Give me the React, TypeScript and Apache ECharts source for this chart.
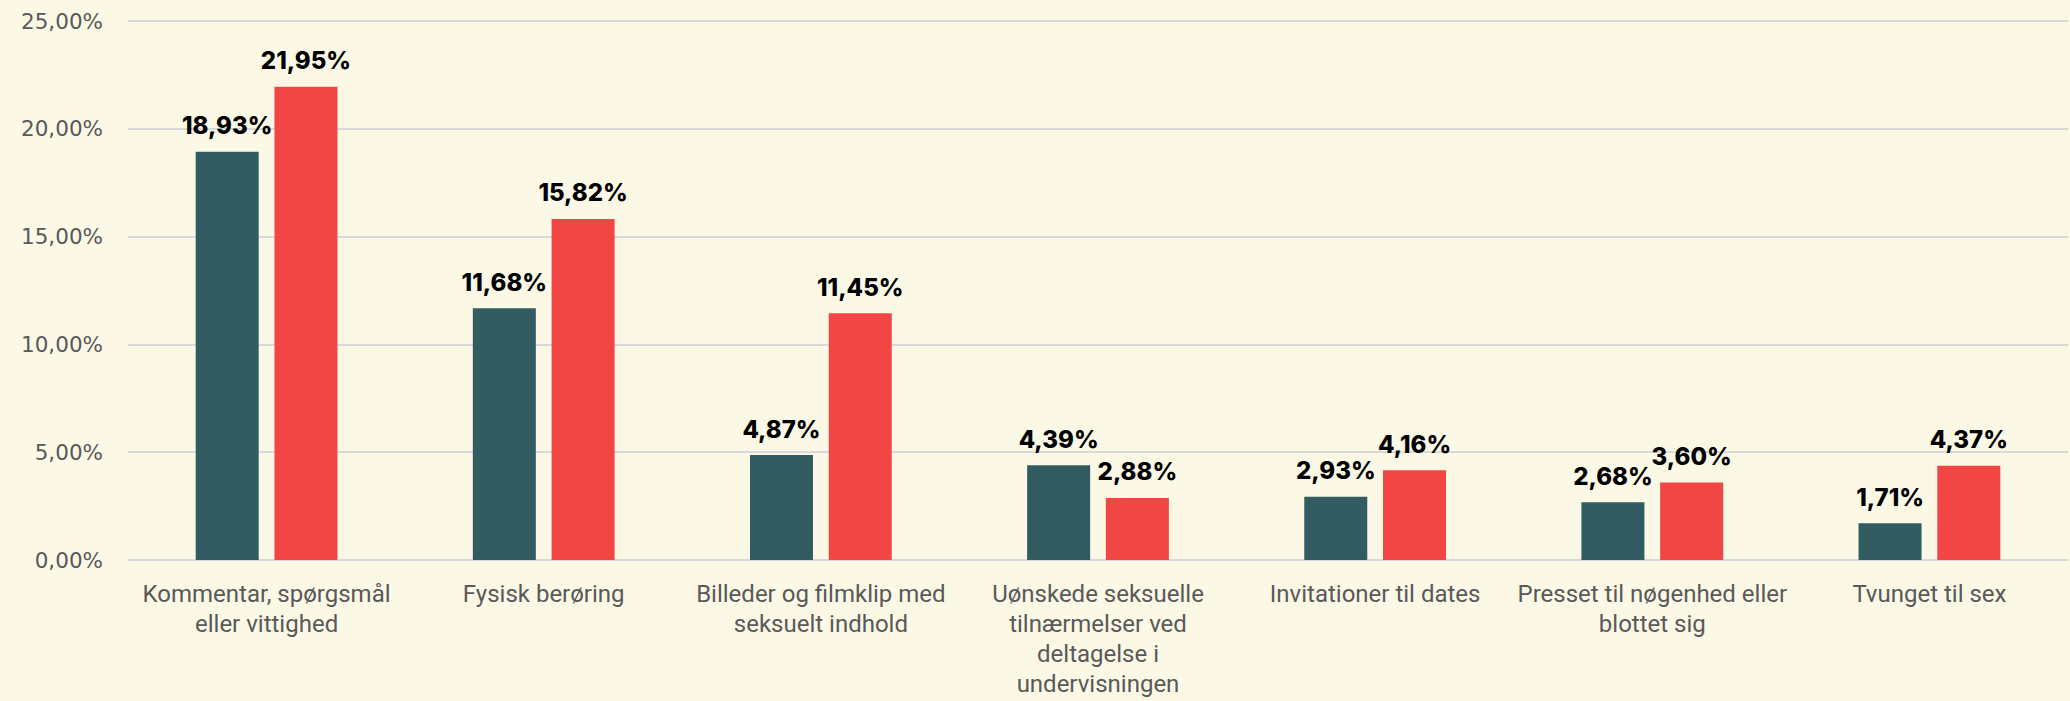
import React, { useEffect, useRef } from "react";
import * as echarts from "echarts";

const categories = [
  "Kommentar, spørgsmål\neller vittighed",
  "Fysisk berøring",
  "Billeder og filmklip med\nseksuelt indhold",
  "Uønskede seksuelle\ntilnærmelser ved\ndeltagelse i\nundervisningen",
  "Invitationer til dates",
  "Presset til nøgenhed eller\nblottet sig",
  "Tvunget til sex",
];
const seriesA = [18.93, 11.68, 4.87, 4.39, 2.93, 2.68, 1.71];
const seriesB = [21.95, 15.82, 11.45, 2.88, 4.16, 3.6, 4.37];
const yTicks = { min: 0, max: 25, interval: 5 };

const fmt = (v: number) => v.toFixed(2).replace(".", ",") + "%";

export default function App() {
  const ref = useRef<HTMLDivElement>(null);
  useEffect(() => {
    const chart = echarts.init(ref.current!, null, { renderer: "svg" });
    const label = {
      show: true,
      position: "top",
      distance: 14,
      formatter: (p: any) => fmt(p.value),
      fontFamily: "Inter",
      fontWeight: 800,
      fontSize: 24,
      color: "#000000",
    };
    chart.setOption({
      animation: false,
      backgroundColor: "#FBF8E6",
      grid: { left: 128, right: 2, top: 21, bottom: 141, containLabel: false },
      xAxis: {
        type: "category",
        data: categories,
        axisLine: { show: false },
        axisTick: { show: false },
        axisLabel: {
          interval: 0,
          margin: 19,
          fontFamily: "Roboto",
          fontSize: 24,
          lineHeight: 30,
          color: "#595959",
        },
      },
      yAxis: {
        type: "value",
        min: yTicks.min,
        max: yTicks.max,
        interval: yTicks.interval,
        axisLine: { show: false },
        axisTick: { show: false },
        splitLine: { lineStyle: { color: "#D9D9DC", width: 2 } },
        axisLabel: {
          formatter: (v: number) => fmt(v),
          margin: 25,
          fontFamily: "DejaVu Sans",
          fontSize: 21.5,
          color: "#595959",
        },
      },
      series: [
        {
          type: "bar",
          data: seriesA,
          barWidth: 63,
          barGap: "25%",
          itemStyle: { color: "#325C62" },
          label,
        },
        {
          type: "bar",
          data: seriesB,
          barWidth: 63,
          barGap: "25%",
          itemStyle: { color: "#F14643" },
          label,
        },
      ],
    });
    return () => chart.dispose();
  }, []);
  return (
    <div
      ref={ref}
      style={{ position: "fixed", left: 0, top: 0, width: 2070, height: 701 }}
    />
  );
}
